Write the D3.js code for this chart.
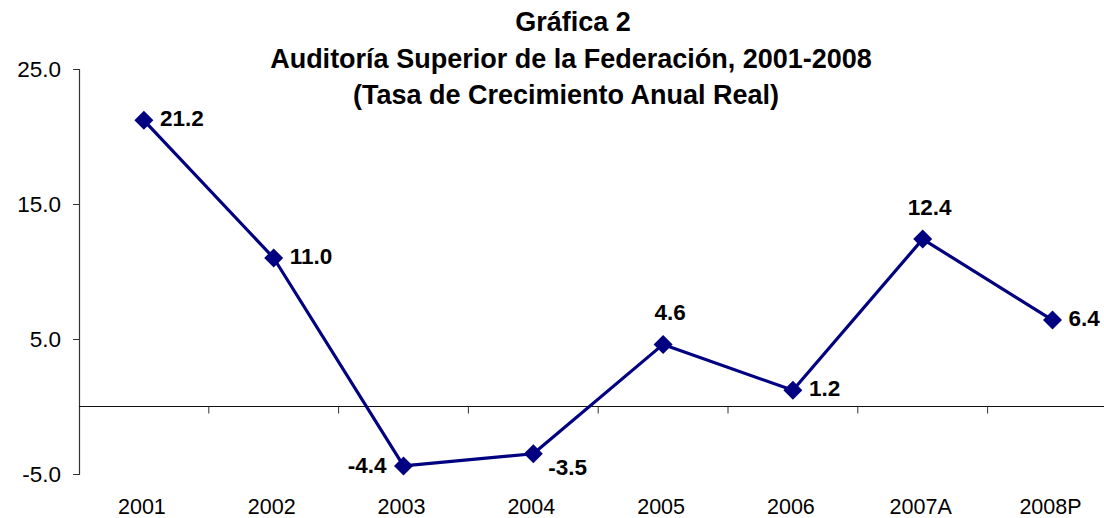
<!DOCTYPE html>
<html>
<head>
<meta charset="utf-8">
<script src="https://cdn.jsdelivr.net/npm/d3@7"></script>
<style>
  html, body { margin: 0; padding: 0; background: #fff; }
  svg { display: block; font-family: Arial, "Liberation Sans", sans-serif; }
</style>
</head>
<body>
<svg id="chart" width="1104" height="518"></svg>
<script>
const categories = ["2001", "2002", "2003", "2004", "2005", "2006", "2007A", "2008P"];
const values = [21.2, 11.0, -4.4, -3.5, 4.6, 1.2, 12.4, 6.4];
const labelPlacement = ["right", "right", "left", "belowRight", "above", "right", "above", "right"];
const yTicks = [-5, 5, 15, 25];
const titleLines = ["Gráfica 2", "Auditoría Superior de la Federación, 2001-2008", "(Tasa de Crecimiento Anual Real)"];

(function () {
const svg = d3.select("#chart");
const mLeft = 79, mTop = 69, mBottom = 474, mRight = 79 + 8 * 129.8;
const fmt = v => v.toFixed(1);

const x = d3.scaleBand().domain(categories).range([mLeft, mRight]).padding(0);
const y = d3.scaleLinear().domain([-5, 25]).range([mBottom, mTop]);

// Title
const titleY = [31, 68, 104];
const titleX = [573, 571, 566];
svg.append("g").selectAll("text").data(titleLines).join("text")
  .attr("x", (d, i) => titleX[i]).attr("y", (d, i) => titleY[i])
  .attr("text-anchor", "middle")
  .attr("font-size", 27).attr("font-weight", "bold").attr("fill", "#000")
  .text(d => d);

// Y axis
const yAxis = d3.axisLeft(y).tickValues(yTicks).tickSize(6).tickPadding(12)
  .tickFormat(fmt);
const gy = svg.append("g").attr("transform", `translate(${mLeft},0)`).call(yAxis);
gy.select(".domain").attr("stroke", "#333").attr("stroke-width", 1.2);
gy.selectAll(".tick line").attr("stroke", "#333");
gy.selectAll(".tick text").attr("font-size", 22.5).attr("fill", "#000")
  .attr("font-family", "Arial, 'Liberation Sans', sans-serif");

// X axis at zero (ticks at band boundaries)
const y0 = y(0);
svg.append("line").attr("x1", mLeft).attr("x2", 1104).attr("y1", y0).attr("y2", y0)
  .attr("stroke", "#111").attr("stroke-width", 1.2);
const bounds = categories.slice(1).map(c => x(c));
svg.append("g").selectAll("line").data(bounds).join("line")
  .attr("x1", d => d).attr("x2", d => d).attr("y1", y0).attr("y2", y0 + 7)
  .attr("stroke", "#333");
// X category labels
svg.append("g").selectAll("text").data(categories).join("text")
  .attr("x", d => x(d) + x.bandwidth() / 2 - 2).attr("y", 514)
  .attr("text-anchor", "middle").attr("font-size", 21.5).attr("fill", "#000")
  .text(d => d);

// Line
const pts = categories.map((c, i) => ({ c, v: values[i], p: labelPlacement[i] }));
const cx = d => x(d.c) + x.bandwidth() / 2;
svg.append("path").datum(pts)
  .attr("d", d3.line().x(cx).y(d => y(d.v)))
  .attr("fill", "none").attr("stroke", "#000080").attr("stroke-width", 3.2)
  .attr("stroke-linejoin", "round");

// Markers
const r = 9.5;
svg.append("g").selectAll("path").data(pts).join("path")
  .attr("d", d => { const X = cx(d), Y = y(d.v);
    return `M${X},${Y - r}L${X + r},${Y}L${X},${Y + r}L${X - r},${Y}Z`; })
  .attr("fill", "#000080");

// Data labels
const off = {
  right: { dx: 16, dy: 6, anchor: "start" },
  left: { dx: -17, dy: 7, anchor: "end" },
  above: { dx: 7, dy: -24, anchor: "middle" },
  belowRight: { dx: 15, dy: 21, anchor: "start" }
};
svg.append("g").selectAll("text").data(pts).join("text")
  .attr("x", d => cx(d) + off[d.p].dx)
  .attr("y", d => y(d.v) + off[d.p].dy)
  .attr("text-anchor", d => off[d.p].anchor)
  .attr("font-size", 22.5).attr("font-weight", "bold").attr("fill", "#000")
  .text(d => fmt(d.v));
})();
</script>
</body>
</html>
